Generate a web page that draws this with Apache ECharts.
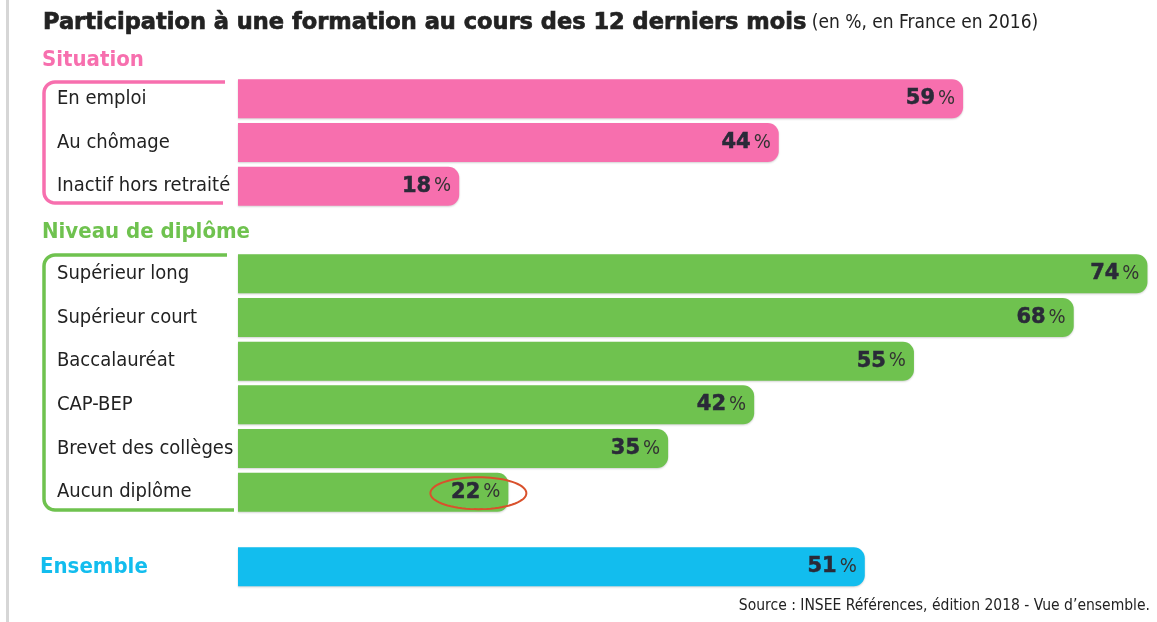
<!DOCTYPE html>
<html><head><meta charset="utf-8">
<script src="https://cdn.jsdelivr.net/npm/echarts@6/dist/echarts.min.js"></script>
<style>html,body{margin:0;padding:0;background:#fff}#c{width:1157px;height:622px}</style>
</head><body><div id="c"></div>
<script>
const situationCats = ['En emploi', 'Au chômage', 'Inactif hors retraité'];
const situationVals = [59, 44, 18];
const diplomeCats = ['Supérieur long', 'Supérieur court', 'Baccalauréat', 'CAP-BEP', 'Brevet des collèges', 'Aucun diplôme'];
const diplomeVals = [74, 68, 55, 42, 35, 22];
const ensembleCats = ['Ensemble'];
const ensembleVals = [51];
const highlighted = 'Aucun diplôme';

const PINK = '#f76fae', GREEN = '#6fc24f', BLUE = '#12bdee', DARK = '#2a2a38';
const NARROW = "'Liberation Sans Narrow','DejaVu Sans Condensed',sans-serif";
const HEAVY = "'DejaVu Sans',Verdana,sans-serif";
const LEFT = 238, XMAX = 74, PX = 12.29, ROW = 43.67;
const grids = [
  {top: 77, n: situationCats.length},
  {top: 252, n: diplomeCats.length},
  {top: 545, n: ensembleCats.length}
];

const chart = echarts.init(document.getElementById('c'));
const labelRich = {
  n: {fontFamily: HEAVY, fontWeight: 'bold', fontSize: 21, color: DARK, textBorderColor: DARK, textBorderWidth: 0.5},
  p: {fontFamily: NARROW, fontWeight: 'normal', fontSize: 20, color: '#333', padding: [0, 0, 0, 3]}
};
function series(idx, vals, color) {
  return {
    type: 'bar', xAxisIndex: idx, yAxisIndex: idx, data: vals, barWidth: 39,
    itemStyle: {color: color, borderRadius: [0, 11, 11, 0], shadowColor: 'rgba(0,0,0,0.18)', shadowBlur: 2, shadowOffsetY: 1},
    label: {show: true, position: 'insideRight', distance: 8,
      formatter: p => '{n|' + p.value + '}{p|%}', rich: labelRich},
    silent: true
  };
}
function yAxis(idx, cats, style) {
  return {
    type: 'category', gridIndex: idx, data: cats, inverse: true,
    axisLine: {show: false}, axisTick: {show: false}, splitLine: {show: false},
    axisLabel: Object.assign({align: 'left', margin: LEFT - 57, fontFamily: NARROW, fontSize: 20, color: '#222'}, style || {})
  };
}
function xAxis(idx) {
  return {type: 'value', gridIndex: idx, min: 0, max: XMAX, show: false};
}

const option = {
  animation: false,
  grid: grids.map(g => ({left: LEFT, top: g.top, width: XMAX * PX, height: g.n * ROW})),
  xAxis: [xAxis(0), xAxis(1), xAxis(2)],
  yAxis: [yAxis(0, situationCats), yAxis(1, diplomeCats),
    yAxis(2, ensembleCats, {margin: LEFT - 40, color: BLUE, fontWeight: 'bold', fontSize: 22})],
  series: [series(0, situationVals, PINK), series(1, diplomeVals, GREEN), series(2, ensembleVals, BLUE)],
  title: {
    left: 38, top: 7,
    text: '{a|Participation à une formation au cours des 12 derniers mois}{b| (en %, en France en 2016)}',
    textStyle: {rich: {
      a: {fontFamily: HEAVY, fontWeight: 'bold', fontSize: 22.5, color: '#222', textBorderColor: '#222', textBorderWidth: 0.7},
      b: {fontFamily: NARROW, fontWeight: 'normal', fontSize: 19, color: '#222'}
    }}
  }
};
chart.setOption(option);

function corner(pts, cx, cy, r, a0, a1) {
  for (let i = 0; i <= 8; i++) {
    const a = a0 + (a1 - a0) * i / 8;
    pts.push([cx + r * Math.cos(a), cy + r * Math.sin(a)]);
  }
}
function bracket(top, bottom, topEnd, botEnd, color) {
  const x = 44, r = 11, pts = [[topEnd, top]];
  corner(pts, x + r, top + r, r, -Math.PI / 2, -Math.PI);
  corner(pts, x + r, bottom - r, r, Math.PI, Math.PI / 2);
  pts.push([botEnd, bottom]);
  return {type: 'polyline', shape: {points: pts}, style: {fill: null, stroke: color, lineWidth: 3.5}, silent: true};
}
function ellipsePts(cx, cy, rx, ry) {
  const pts = [];
  for (let i = 0; i < 72; i++) {
    const a = i / 72 * 2 * Math.PI;
    pts.push([cx + rx * Math.cos(a), cy + ry * Math.sin(a)]);
  }
  return pts;
}
const g1 = grids[0], g2 = grids[1];
const hi = diplomeCats.indexOf(highlighted);
const hp = chart.convertToPixel({gridIndex: 1}, [diplomeVals[hi], hi]);
chart.setOption({graphic: [
  {type: 'rect', shape: {x: 6, y: 0, width: 3, height: 622}, style: {fill: '#d6d6d6'}, silent: true},
  {type: 'text', x: 42, y: 49, style: {text: 'Situation', font: 'bold 22px ' + NARROW, fill: PINK}},
  {type: 'text', x: 42, y: 221, style: {text: 'Niveau de diplôme', font: 'bold 22px ' + NARROW, fill: GREEN}},
  bracket(g1.top + 5, g1.top + g1.n * ROW - 5, 225, 223, PINK),
  bracket(g2.top + 3, g2.top + g2.n * ROW - 4, 227, 234, GREEN),
  {type: 'polygon', z: 100, zlevel: 1, shape: {points: ellipsePts(hp[0] - 30, hp[1] + 1, 48, 16)},
    style: {fill: null, stroke: '#d9512c', lineWidth: 2}, silent: true},
  {type: 'text', x: 1150, y: 598, style: {text: 'Source : INSEE Références, édition 2018 - Vue d’ensemble.', font: '15.5px ' + NARROW, fill: '#222', align: 'right'}}
]});
</script></body></html>
